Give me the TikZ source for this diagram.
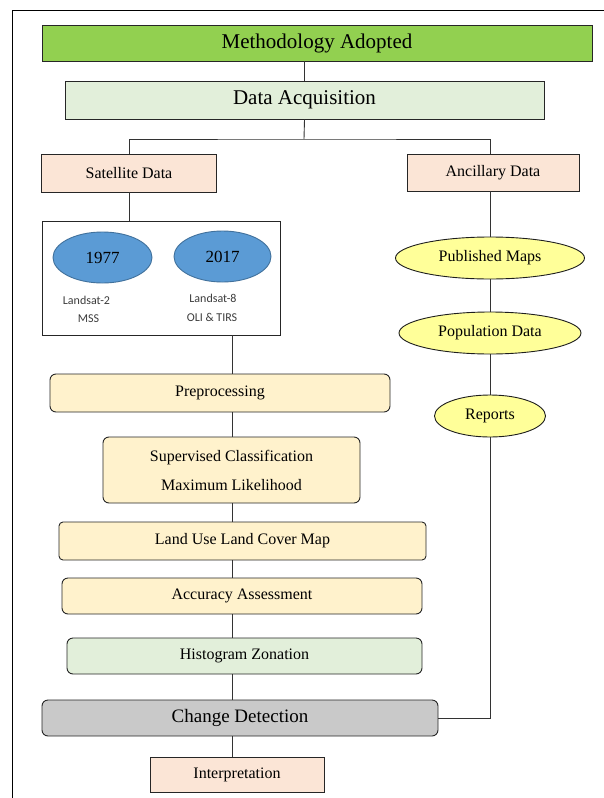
\documentclass[tikz,border=0pt]{standalone}
\usepackage{fontspec}
\setmainfont{Liberation Serif}
\newfontfamily\lblfont{Carlito}
\usetikzlibrary{shapes.geometric}

\begin{document}
\begin{tikzpicture}[x=1pt,y=1pt,yscale=-1,xscale=1,
	box/.style={draw={rgb, 255:red, 38; green, 38; blue, 38 }, line width=0.9, inner sep=0.75pt, align=center, font=\fontsize{16}{29}\selectfont},
	rbox/.style={box, rounded corners=6},
	oval/.style={ellipse, draw={rgb, 255:red, 30; green, 30; blue, 30 }, line width=0.9, inner sep=0.75pt, font=\fontsize{16}{19}\selectfont},
	link/.style={draw={rgb, 255:red, 51; green, 51; blue, 51 }, line width=0.9}]
	\useasboundingbox (0,0) rectangle (604,798);
	
	%Straight Lines (outer frame)
	\draw [line width=1.5]    (12.5,798) -- (12.5,10.5) -- (604,10.5) ;
	
	%Shape: Rectangle
	\node [box, fill={rgb, 255:red, 146; green, 208; blue, 80 }, minimum width=550, minimum height=36, font=\fontsize{21}{25}\selectfont] (meth) at (317,43) {Methodology Adopted};
	%Shape: Rectangle
	\node [box, fill={rgb, 255:red, 226; green, 239; blue, 218 }, minimum width=479, minimum height=38, font=\fontsize{21}{25}\selectfont] (acq) at (304.5,100) {Data Acquisition};
	%Shape: Rectangle
	\node [box, fill={rgb, 255:red, 251; green, 229; blue, 214 }, minimum width=175, minimum height=38] (sat) at (129,173) {Satellite Data};
	%Shape: Rectangle
	\node [box, fill={rgb, 255:red, 251; green, 229; blue, 214 }, minimum width=172, minimum height=37] (anc) at (493,172.5) {Ancillary Data};
	
	%Shape: Rectangle
	\node [box, fill=white, minimum width=238, minimum height=114] (lsat) at (161,278) {};
	%Shape: Ellipse
	\node [oval, fill={rgb, 255:red, 91; green, 155; blue, 213 }, draw={rgb, 255:red, 65; green, 113; blue, 156 }, minimum width=99, minimum height=51, font=\fontsize{17}{20}\selectfont] (e77) at (102.5,257.5) {1977};
	%Shape: Ellipse
	\node [oval, fill={rgb, 255:red, 91; green, 155; blue, 213 }, draw={rgb, 255:red, 65; green, 113; blue, 156 }, minimum width=97, minimum height=51, font=\fontsize{17}{20}\selectfont] (e17) at (222.5,256.5) {2017};
	% Text Node
	\node [inner sep=0.75pt, text={rgb, 255:red, 60; green, 60; blue, 60 }, font=\lblfont\fontsize{12}{14}\selectfont] (l2a) at (86.5,300) {Landsat-2};
	% Text Node
	\node [inner sep=0.75pt, text={rgb, 255:red, 60; green, 60; blue, 60 }, font=\lblfont\fontsize{12}{14}\selectfont] (l2b) at (88.5,319) {MSS};
	% Text Node
	\node [inner sep=0.75pt, text={rgb, 255:red, 60; green, 60; blue, 60 }, font=\lblfont\fontsize{12}{14}\selectfont] (l8a) at (213,298) {Landsat-8};
	% Text Node
	\node [inner sep=0.75pt, text={rgb, 255:red, 60; green, 60; blue, 60 }, font=\lblfont\fontsize{12}{14}\selectfont] (l8b) at (212,317) {OLI \& TIRS};
	
	%Shape: Ellipse
	\node [oval, fill={rgb, 255:red, 255; green, 255; blue, 153 }, minimum width=189, minimum height=42] (pm) at (490,258) {Published Maps};
	%Shape: Ellipse
	\node [oval, fill={rgb, 255:red, 255; green, 255; blue, 153 }, minimum width=182, minimum height=42] (pop) at (490,333) {Population Data};
	%Shape: Ellipse
	\node [oval, fill={rgb, 255:red, 255; green, 255; blue, 153 }, minimum width=111, minimum height=42] (rep) at (490,416) {Reports};
	
	%Rounded Rect
	\node [rbox, fill={rgb, 255:red, 255; green, 242; blue, 204 }, minimum width=340, minimum height=38] (pre) at (220,393) {Preprocessing};
	%Rounded Rect
	\node [rbox, fill={rgb, 255:red, 255; green, 242; blue, 204 }, minimum width=257, minimum height=66] (sup) at (231.5,470) {Supervised Classification\\Maximum Likelihood};
	%Rounded Rect
	\node [rbox, rounded corners=4, fill={rgb, 255:red, 255; green, 242; blue, 204 }, minimum width=367, minimum height=38] (lulc) at (242.5,541) {Land Use Land Cover Map};
	%Rounded Rect
	\node [rbox, fill={rgb, 255:red, 255; green, 242; blue, 204 }, minimum width=360, minimum height=36] (acc) at (242,596) {Accuracy Assessment};
	%Rounded Rect
	\node [rbox, fill={rgb, 255:red, 226; green, 239; blue, 218 }, minimum width=355, minimum height=36] (hist) at (244.5,656) {Histogram Zonation};
	%Rounded Rect
	\node [rbox, fill={rgb, 255:red, 201; green, 201; blue, 201 }, minimum width=396, minimum height=36, font=\fontsize{19}{23}\selectfont] (cd) at (240,718) {Change Detection};
	%Shape: Rectangle
	\node [box, fill={rgb, 255:red, 251; green, 229; blue, 214 }, minimum width=174, minimum height=35] (interp) at (237,774.5) {Interpretation};
	
	\coordinate (brk) at (304,139);
	\coordinate (spine) at (232,0);
	
	%Straight Lines
	\draw [link] (meth.south -| acq) -- (acq.north) ;
	\draw [link] (acq.south) -- (brk) ;
	\draw [link] (sat.north) |- (brk) -| (anc.north -| pm) ;
	\draw [link] (sat.south) -- (sat.south |- lsat.north) ;
	\draw [link] (anc.south -| pm) -- (pm.north) ;
	\draw [link] (pm.south) -- (pop.north) ;
	\draw [link] (pop.south) -- (rep.north) ;
	\draw [link] (lsat.south -| spine) -- (pre.north -| spine) ;
	\draw [link] (pre.south -| spine) -- (sup.north -| spine) ;
	\draw [link] (sup.south -| spine) -- (lulc.north -| spine) ;
	\draw [link] (lulc.south -| spine) -- (acc.north -| spine) ;
	\draw [link] (acc.south -| spine) -- (hist.north -| spine) ;
	\draw [link] (hist.south -| spine) -- (cd.north -| spine) ;
	\draw [link] (cd.south -| spine) -- (interp.north -| spine) ;
	\draw [link] (cd.east) -| (rep.south) ;
	
\end{tikzpicture}
\end{document}
